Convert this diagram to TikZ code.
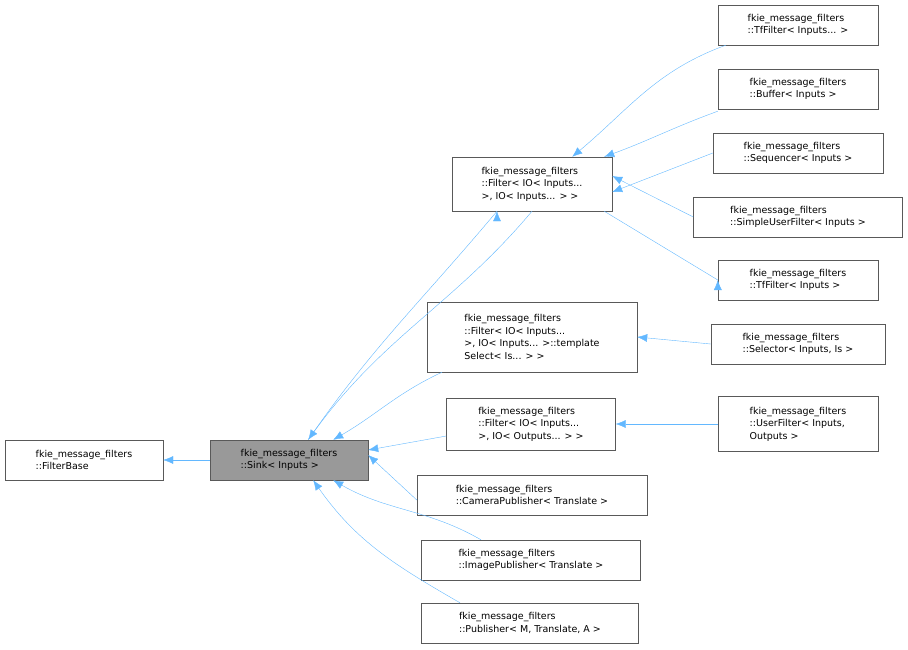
\documentclass[tikz,border=0pt]{standalone}
\usepackage{fontspec}
\setmainfont{DejaVu Sans}
\usetikzlibrary{arrows.meta}
\begin{document}
\begin{tikzpicture}[x=1pt,y=-1pt,
    cls/.style={draw=black!65,fill=white,inner sep=0pt,align=left,
      font=\fontsize{9.5}{12.5}\selectfont},
    cur/.style={cls,fill=black!40},
    inh/.style={draw={rgb,255:red,99;green,184;blue,255},
      {Latex[length=10pt,width=8pt,fill={rgb,255:red,99;green,184;blue,255}]}-}]
	\useasboundingbox (0,0) rectangle (908,649);
	% base classes
	\node[cls,minimum width=158,minimum height=40] (base) at (84,460) {fkie\_message\_filters\\::FilterBase};
	\node[cur,minimum width=158,minimum height=40] (sink) at (289,460) {fkie\_message\_filters\\::Sink< Inputs >};
	% middle column
	\node[cls,minimum width=160,minimum height=54] (filt) at (532,184) {fkie\_message\_filters\\::Filter< IO< Inputs...\\ >, IO< Inputs... > >};
	\node[cls,minimum width=210,minimum height=70] (tmpl) at (532,337) {fkie\_message\_filters\\::Filter< IO< Inputs...\\ >, IO< Inputs... >::template\\ Select< Is... > >};
	\node[cls,minimum width=169,minimum height=52] (outp) at (531,424) {fkie\_message\_filters\\::Filter< IO< Inputs...\\ >, IO< Outputs... > >};
	\node[cls,minimum width=230,minimum height=40] (cam) at (532,495) {fkie\_message\_filters\\::CameraPublisher< Translate >};
	\node[cls,minimum width=219,minimum height=40] (img) at (531,560) {fkie\_message\_filters\\::ImagePublisher< Translate >};
	\node[cls,minimum width=217,minimum height=40] (pub) at (530,623) {fkie\_message\_filters\\::Publisher< M, Translate, A >};
	% right column
	\node[cls,minimum width=160,minimum height=40] (tfv) at (798,25) {fkie\_message\_filters\\::TfFilter< Inputs... >};
	\node[cls,minimum width=160,minimum height=40] (buf) at (798,89) {fkie\_message\_filters\\::Buffer< Inputs >};
	\node[cls,minimum width=170,minimum height=40] (seq) at (798,153) {fkie\_message\_filters\\::Sequencer< Inputs >};
	\node[cls,minimum width=209,minimum height=40] (suf) at (798,217) {fkie\_message\_filters\\::SimpleUserFilter< Inputs >};
	\node[cls,minimum width=160,minimum height=40] (tf) at (798,280) {fkie\_message\_filters\\::TfFilter< Inputs >};
	\node[cls,minimum width=174,minimum height=40] (sel) at (798,344) {fkie\_message\_filters\\::Selector< Inputs, Is >};
	\node[cls,minimum width=160,minimum height=55] (usr) at (798,424) {fkie\_message\_filters\\::UserFilter< Inputs,\\ Outputs >};
	% inheritance
	\draw[inh] (base) -- (sink);
	\draw[inh] (sink.north east) ++(-60,0) to[out=55,in=-130] (filt.south) ++(-35,0);
	\draw[inh] ([xshift=-60]sink.north east) to[out=55,in=-130] ([xshift=-35]filt.south);
	\draw[inh] ([xshift=-35]sink.north east) to[out=30,in=-155] ([xshift=-90]tmpl.south);
	\draw[inh] (sink.east) ++(0,-10) -- (outp.west |- 0,436);
	\draw[inh] ([yshift=5]sink.east) -- ([yshift=-5]cam.west);
	\draw[inh] ([xshift=-35]sink.south east) to[out=-30,in=150] ([xshift=-50]img.north);
	\draw[inh] ([xshift=-55]sink.south east) to[out=-55,in=150] ([xshift=-70]pub.north);
	\draw[inh] ([xshift=-40]filt.north east) to[out=40,in=-160] ([xshift=8]tfv.south west);
	\draw[inh] ([xshift=-8]filt.north east) to[out=20,in=-160] ([yshift=-2]buf.south west);
	\draw[inh] ([yshift=-8]filt.east) -- (seq.west);
	\draw[inh] ([yshift=8]filt.east) -- (suf.west);
	\draw[inh] (filt.south east) ++(-8,0) -- (tf.west) ++(0,0);
	\draw[inh] (tmpl.east) -- (sel.west);
	\draw[inh] (outp.east) -- (usr.west);
\end{tikzpicture}
\end{document}
